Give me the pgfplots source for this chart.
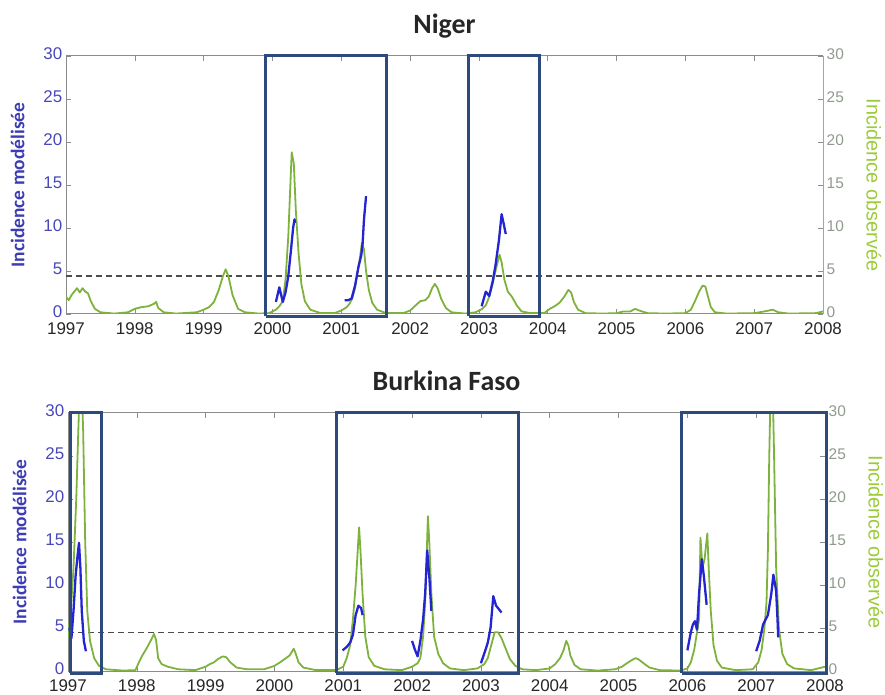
\documentclass[border=0pt]{standalone}
\usepackage{fontspec}
\setmainfont{Liberation Sans}
\newfontfamily\calibri{Carlito}
\usepackage{pgfplots}
\pgfplotsset{compat=1.18}
\definecolor{modblue}{HTML}{2424D2}
\definecolor{obsgreen}{HTML}{7DB23C}
\definecolor{boxcol}{HTML}{2C4B7C}
\definecolor{lblblue}{HTML}{3C3CB4}
\definecolor{tickblue}{HTML}{4848B8}
\definecolor{rlabel}{HTML}{9CCB3A}
\definecolor{rtick}{HTML}{8F9A8C}
\definecolor{rspine}{HTML}{5CDC4C}

\pgfplotsset{
  base/.style={
    scale only axis, width=757bp, height=258bp,
    xmin=1997, xmax=2008, ymin=0, ymax=30,
    tick align=inside, major tick length=5bp,
    every tick/.style={draw=black!45, line width=0.6bp},
    /pgf/number format/assume math mode=true,
  },
  leftax/.style={
    base,
    axis y line*=left,
    axis line style={draw=black!45, line width=1bp},
    xtick={1997,1998,1999,2000,2001,2002,2003,2004,2005,2006,2007,2008},
    xticklabels={1997,1998,1999,2000,2001,2002,2003,2004,2005,2006,2007,2008},
    x tick label style={font=\fontsize{17}{18}\selectfont, text=black!85, inner sep=0.5bp, yshift=-8bp},
    ytick={0,5,...,30},
    y tick label style={font=\fontsize{17}{18}\selectfont, text=tickblue, inner sep=0.5bp, xshift=-3bp, yshift=2.5bp},
    ylabel={Incidence modélisée},
    ylabel style={font=\calibri\bfseries\fontsize{19.5}{20}\selectfont, text=lblblue,
      at={(axis description cs:-0.064,0.5)}, anchor=center},
    title style={font=\calibri\bfseries\fontsize{28}{29}\selectfont, text=black!85,
      at={(axis description cs:0.5,1)}, anchor=base, yshift=17bp},
  },
  rightax/.style={
    base,
    axis x line=none,
    axis y line*=right,
    y axis line style={draw=rspine, line width=1bp},
    ytick={0,5,...,30},
    y tick label style={font=\fontsize{15.5}{16}\selectfont, text=rtick, inner sep=0.5bp, xshift=3bp, yshift=2bp},
    ylabel={Incidence observée},
    ylabel style={font=\fontsize{20}{21}\selectfont, text=rlabel, rotate=180,
      at={(axis description cs:1.067,0.5)}, anchor=center},
  },
  boxax/.style={base, hide axis, clip=false},
  obs/.style={color=obsgreen, line width=1.8bp, line join=round},
  mod/.style={color=modblue, line width=2.3bp, line join=round},
  thr/.style={color=black!70, line width=1.5bp, dash pattern=on 6bp off 4bp},
  bx/.style={color=boxcol, line width=3bp, line join=miter},
}

\begin{document}
\begin{tikzpicture}
\path[use as bounding box] (0bp,0bp) rectangle (885bp,695bp);

% ---------------- Niger ----------------
\begin{axis}[leftax, at={(66bp,381bp)}, anchor=south west, title={Niger}]
\addplot[thr] coordinates {(1997,4.4)(2008,4.4)};
\addplot[obs] coordinates {
(1997.00,2.0)(1997.04,1.6)(1997.08,2.2)(1997.12,2.6)(1997.16,3.0)(1997.20,2.5)(1997.24,3.0)(1997.28,2.6)(1997.32,2.4)(1997.36,1.5)(1997.42,0.6)(1997.50,0.2)(1997.70,0.05)(1997.90,0.2)
(1998.00,0.6)(1998.10,0.8)(1998.20,0.9)(1998.28,1.2)(1998.31,1.4)(1998.34,0.7)(1998.42,0.2)(1998.60,0.05)(1998.90,0.2)
(1999.00,0.5)(1999.08,0.8)(1999.15,1.4)(1999.22,2.8)(1999.28,4.4)(1999.32,5.2)(1999.36,4.4)(1999.42,2.2)(1999.50,0.6)(1999.60,0.2)(1999.80,0.05)(1999.95,0.1)
(2000.05,0.5)(2000.10,0.9)(2000.15,1.5)(2000.19,4)(2000.23,9)(2000.26,15)(2000.28,18.8)(2000.31,17.5)(2000.34,12)(2000.38,7)(2000.42,3.5)(2000.47,1.5)(2000.55,0.5)(2000.70,0.1)(2000.90,0.1)
(2001.00,0.4)(2001.08,0.8)(2001.12,1.2)(2001.16,1.8)(2001.20,3.0)(2001.24,5.0)(2001.27,6.5)(2001.30,8.3)(2001.33,7.5)(2001.36,5)(2001.40,2.8)(2001.45,1.3)(2001.52,0.5)(2001.65,0.1)(2001.90,0.1)
(2002.00,0.4)(2002.08,1.0)(2002.15,1.5)(2002.22,1.6)(2002.27,2.0)(2002.32,3.0)(2002.36,3.5)(2002.40,3.0)(2002.45,1.8)(2002.52,0.7)(2002.60,0.2)(2002.80,0.05)(2002.95,0.2)
(2003.05,0.6)(2003.10,1.0)(2003.15,2.0)(2003.20,3.5)(2003.25,5.3)(2003.30,6.9)(2003.33,6.0)(2003.37,4.0)(2003.42,2.6)(2003.48,2.0)(2003.55,1.0)(2003.62,0.3)(2003.75,0.1)(2003.95,0.1)
(2004.03,0.6)(2004.10,0.9)(2004.17,1.3)(2004.24,2.0)(2004.30,2.8)(2004.34,2.5)(2004.38,1.4)(2004.44,0.5)(2004.55,0.1)(2004.80,0.05)
(2005.00,0.1)(2005.10,0.3)(2005.20,0.3)(2005.27,0.6)(2005.33,0.4)(2005.45,0.1)(2005.70,0.05)
(2006.00,0.1)(2006.08,0.5)(2006.14,1.5)(2006.20,2.6)(2006.25,3.3)(2006.29,3.2)(2006.33,2.0)(2006.37,0.8)(2006.43,0.2)(2006.60,0.05)
(2007.00,0.1)(2007.15,0.3)(2007.27,0.5)(2007.35,0.2)(2007.50,0.05)(2007.90,0.1)(2008.00,0.3)
};
\addplot[mod] coordinates {(2000.05,1.4)(2000.10,3.1)(2000.15,1.4)(2000.19,2.5)(2000.23,4.4)(2000.27,7.5)(2000.30,10)(2000.32,11.0)(2000.33,10.6)};
\addplot[mod] coordinates {(2001.05,1.6)(2001.10,1.6)(2001.15,1.8)(2001.20,3.3)(2001.25,5.5)(2001.29,6.8)(2001.31,8.2)(2001.33,11)(2001.36,13.7)};
\addplot[mod] coordinates {(2003.04,0.9)(2003.10,2.6)(2003.15,2.1)(2003.20,3.8)(2003.24,5.6)(2003.29,8.5)(2003.33,11.6)(2003.36,10.5)(2003.39,9.3)};
\end{axis}
\begin{axis}[rightax, at={(66bp,381bp)}, anchor=south west]
\end{axis}
\begin{axis}[boxax, at={(66bp,381bp)}, anchor=south west]
\addplot[bx] coordinates {(1999.90,-0.25)(2001.65,-0.25)(2001.65,30)(1999.90,30)(1999.90,-0.25)};
\addplot[bx] coordinates {(2002.85,-0.25)(2003.88,-0.25)(2003.88,30)(2002.85,30)(2002.85,-0.25)};
\end{axis}

% ---------------- Burkina Faso ----------------
\begin{axis}[leftax, at={(68bp,24bp)}, anchor=south west, title={Burkina Faso}]
\addplot[thr] coordinates {(1997,4.5)(2008,4.5)};
\addplot[obs] coordinates {
(1997.00,4)(1997.04,7)(1997.08,12)(1997.12,20)(1997.15,28)(1997.17,33)(1997.20,33)(1997.22,28)(1997.25,15)(1997.28,7)(1997.32,3.5)(1997.38,1.5)(1997.45,0.6)(1997.55,0.2)(1997.80,0.05)(1997.98,0.1)
(1998.03,1.0)(1998.08,1.8)(1998.14,2.6)(1998.20,3.5)(1998.25,4.3)(1998.28,3.6)(1998.31,1.5)(1998.36,0.8)(1998.45,0.5)(1998.60,0.2)(1998.85,0.1)
(1999.00,0.5)(1999.06,0.8)(1999.12,1.0)(1999.18,1.4)(1999.25,1.7)(1999.30,1.6)(1999.36,1.0)(1999.45,0.4)(1999.60,0.2)(1999.85,0.2)
(2000.00,0.6)(2000.08,1.0)(2000.15,1.4)(2000.22,1.8)(2000.28,2.6)(2000.31,2.0)(2000.35,1.0)(2000.42,0.4)(2000.60,0.1)(2000.90,0.1)
(2001.00,0.5)(2001.05,1.5)(2001.10,3)(2001.14,6)(2001.18,10)(2001.21,14)(2001.23,16.7)(2001.25,14)(2001.28,9)(2001.32,4)(2001.37,1.6)(2001.45,0.6)(2001.60,0.2)(2001.85,0.1)
(2002.00,0.5)(2002.08,0.9)(2002.12,1.5)(2002.16,4)(2002.19,8)(2002.21,13)(2002.23,18)(2002.25,15)(2002.28,9)(2002.32,4)(2002.38,2)(2002.45,0.9)(2002.55,0.3)(2002.75,0.1)(2002.95,0.3)
(2003.05,0.8)(2003.10,1.5)(2003.15,3.0)(2003.20,4.5)(2003.25,4.5)(2003.30,3.8)(2003.35,2.8)(2003.42,1.4)(2003.50,0.6)(2003.60,0.2)(2003.80,0.1)
(2004.00,0.3)(2004.08,0.8)(2004.15,1.5)(2004.20,2.4)(2004.24,3.5)(2004.27,3.0)(2004.30,1.8)(2004.36,0.7)(2004.45,0.2)(2004.70,0.05)(2004.95,0.2)
(2005.05,0.5)(2005.12,0.9)(2005.20,1.3)(2005.25,1.5)(2005.30,1.3)(2005.38,0.8)(2005.45,0.4)(2005.60,0.1)(2005.90,0.05)
(2006.00,0.3)(2006.05,1.0)(2006.10,2.5)(2006.14,4.5)(2006.17,6)(2006.19,15.5)(2006.22,12)(2006.25,13)(2006.29,16)(2006.31,12)(2006.34,7)(2006.38,3)(2006.43,1.2)(2006.50,0.4)(2006.70,0.1)(2006.95,0.2)
(2007.03,1.0)(2007.08,2.5)(2007.12,5)(2007.15,8)(2007.17,14)(2007.19,25)(2007.21,33)(2007.24,33)(2007.26,25)(2007.29,12)(2007.33,5)(2007.38,2)(2007.45,0.8)(2007.55,0.3)(2007.80,0.1)(2008.00,0.5)
};
\addplot[mod] coordinates {(1997.02,5.0)(1997.05,3.8)(1997.08,7)(1997.11,11)(1997.14,13.5)(1997.16,14.9)(1997.18,12)(1997.20,7)(1997.23,3.5)(1997.26,2.3)};
\addplot[mod] coordinates {(2000.99,2.4)(2001.05,2.8)(2001.10,3.3)(2001.14,4.2)(2001.18,6.5)(2001.22,7.6)(2001.26,7.3)(2001.28,6.5)};
\addplot[mod] coordinates {(2002.00,3.5)(2002.04,2.5)(2002.08,1.7)(2002.12,3.5)(2002.16,6)(2002.19,9)(2002.22,14)(2002.25,11)(2002.28,7)};
\addplot[mod] coordinates {(2003.00,0.9)(2003.06,2.3)(2003.10,3.3)(2003.14,5.0)(2003.18,8.7)(2003.22,7.6)(2003.26,7.2)(2003.30,6.8)};
\addplot[mod] coordinates {(2006.00,2.4)(2006.05,4.5)(2006.08,5.4)(2006.11,5.8)(2006.14,4.8)(2006.17,9)(2006.21,13)(2006.24,11)(2006.28,7.7)};
\addplot[mod] coordinates {(2007.00,2.3)(2007.05,3.5)(2007.10,5.4)(2007.17,6.5)(2007.22,9)(2007.25,11.2)(2007.29,9.3)(2007.31,6)(2007.32,3.9)};
\end{axis}
\begin{axis}[rightax, at={(68bp,24bp)}, anchor=south west]
\end{axis}
\begin{axis}[boxax, at={(68bp,24bp)}, anchor=south west]
\addplot[bx] coordinates {(1997.03,-0.25)(1997.48,-0.25)(1997.48,30)(1997.03,30)(1997.03,-0.25)};
\addplot[bx] coordinates {(2000.90,-0.25)(2003.55,-0.25)(2003.55,30)(2000.90,30)(2000.90,-0.25)};
\addplot[bx] coordinates {(2005.92,-0.25)(2008.02,-0.25)(2008.02,30)(2005.92,30)(2005.92,-0.25)};
\end{axis}
\end{tikzpicture}
\end{document}
